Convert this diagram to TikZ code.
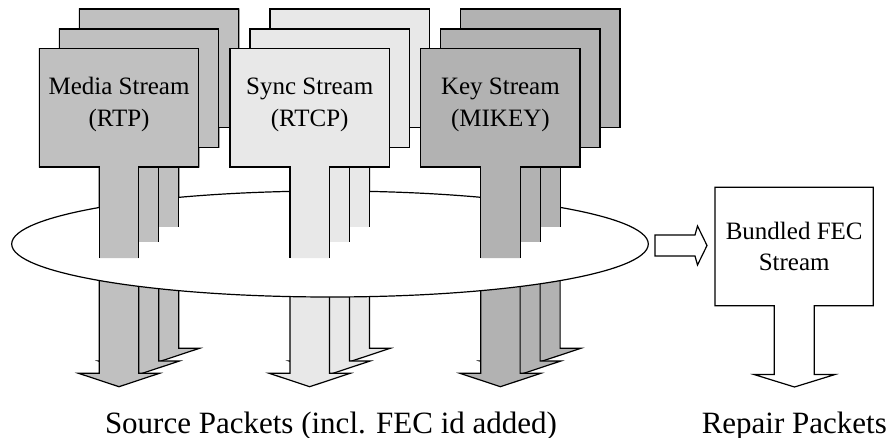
\documentclass[tikz,border=0pt]{standalone}
\usepackage{fontspec}
\setmainfont{Liberation Serif}
\definecolor{mediagray}{HTML}{C0C0C0}
\definecolor{syncgray}{HTML}{E8E8E8}
\definecolor{keygray}{HTML}{B2B2B2}

% full stream shape: box, stem and arrow head
% #1 centre x, #2 box top, #3 head base y, #4 fill colour
\newcommand\streamshape[4]{%
  \filldraw[fill=#4]
    ({#1-79.65},{#2}) -- ({#1+79.65},{#2}) -- ({#1+79.65},{#2+118.3})
    -- ({#1+19.7},{#2+118.3}) -- ({#1+19.7},{#3}) -- ({#1+40.5},{#3})
    -- ({#1},{#3+13.4}) -- ({#1-40.5},{#3}) -- ({#1-19.7},{#3})
    -- ({#1-19.7},{#2+118.3}) -- ({#1-79.65},{#2+118.3}) -- cycle;}

% upper part of a stream shape, cut open where the stem meets the disc
% #1 centre x, #2 box top, #3 cut y, #4 fill colour
\newcommand\streamtop[4]{%
  \filldraw[fill=#4]
    ({#1+19.7},{#3}) -- ({#1+19.7},{#2+118.3}) -- ({#1+79.65},{#2+118.3})
    -- ({#1+79.65},{#2}) -- ({#1-79.65},{#2}) -- ({#1-79.65},{#2+118.3})
    -- ({#1-19.7},{#2+118.3}) -- ({#1-19.7},{#3});}

\tikzset{
  boxtext/.style={anchor=base, inner sep=0pt, font=\fontsize{25}{30}\selectfont},
  labeltext/.style={anchor=base, inner sep=0pt, font=\fontsize{31}{36}\selectfont}
}

\begin{document}
\begin{tikzpicture}[x=1pt, y=-1pt, line width=1.2pt]
\useasboundingbox (0,0) rectangle (888,438);

% lower parts of all stream arrows (back to front)
\foreach \c/\col in {119/mediagray, 309.7/syncgray, 500.4/keygray}{
  \streamshape{\c+40}{9}{348.3}{\col}
  \streamshape{\c+20}{29}{361}{\col}
  \streamshape{\c}{48.7}{373.3}{\col}
}

% the bundling disc
\filldraw[fill=white] (330,244) ellipse [x radius=318.3, y radius=53];

% upper parts, in front of the disc
\foreach \c/\col in {119/mediagray, 309.7/syncgray, 500.4/keygray}{
  \streamtop{\c+40}{9}{227}{\col}
  \streamtop{\c+20}{29}{242}{\col}
  \streamtop{\c}{48.7}{258}{\col}
}

% stream labels
\node[boxtext] (mediaA) at (119,94.7) {Media Stream};
\node[boxtext] (mediaB) at (119,127) {(RTP)};
\node[boxtext] (syncA) at (309.7,94.7) {Sync Stream};
\node[boxtext] (syncB) at (309.7,127) {(RTCP)};
\node[boxtext] (keyA) at (500.4,94.7) {Key Stream};
\node[boxtext] (keyB) at (500.4,127) {(MIKEY)};

% hand-over arrow to the FEC stream
\filldraw[fill=white] (655,235) -- (695,235) -- (697.5,226) -- (707,245.5)
  -- (697.5,265) -- (695,256) -- (655,256) -- cycle;

% bundled FEC stream with its repair arrow
\filldraw[fill=white]
  (715,187.3) -- (873.3,187.3) -- (873.3,305.7) -- (814.3,305.7)
  -- (814.3,374.5) -- (835,374.5) -- (794.5,387) -- (754,374.5)
  -- (774.3,374.5) -- (774.3,305.7) -- (715,305.7) -- cycle;
\node[boxtext] (fecA) at (794.2,240) {Bundled FEC};
\node[boxtext] (fecB) at (794.2,270.7) {Stream};

% packet labels
\node[labeltext] (source) at (331,433) {Source Packets (incl. FEC id added)};
\node[labeltext] (repair) at (794.3,433) {Repair Packets};
\end{tikzpicture}
\end{document}
